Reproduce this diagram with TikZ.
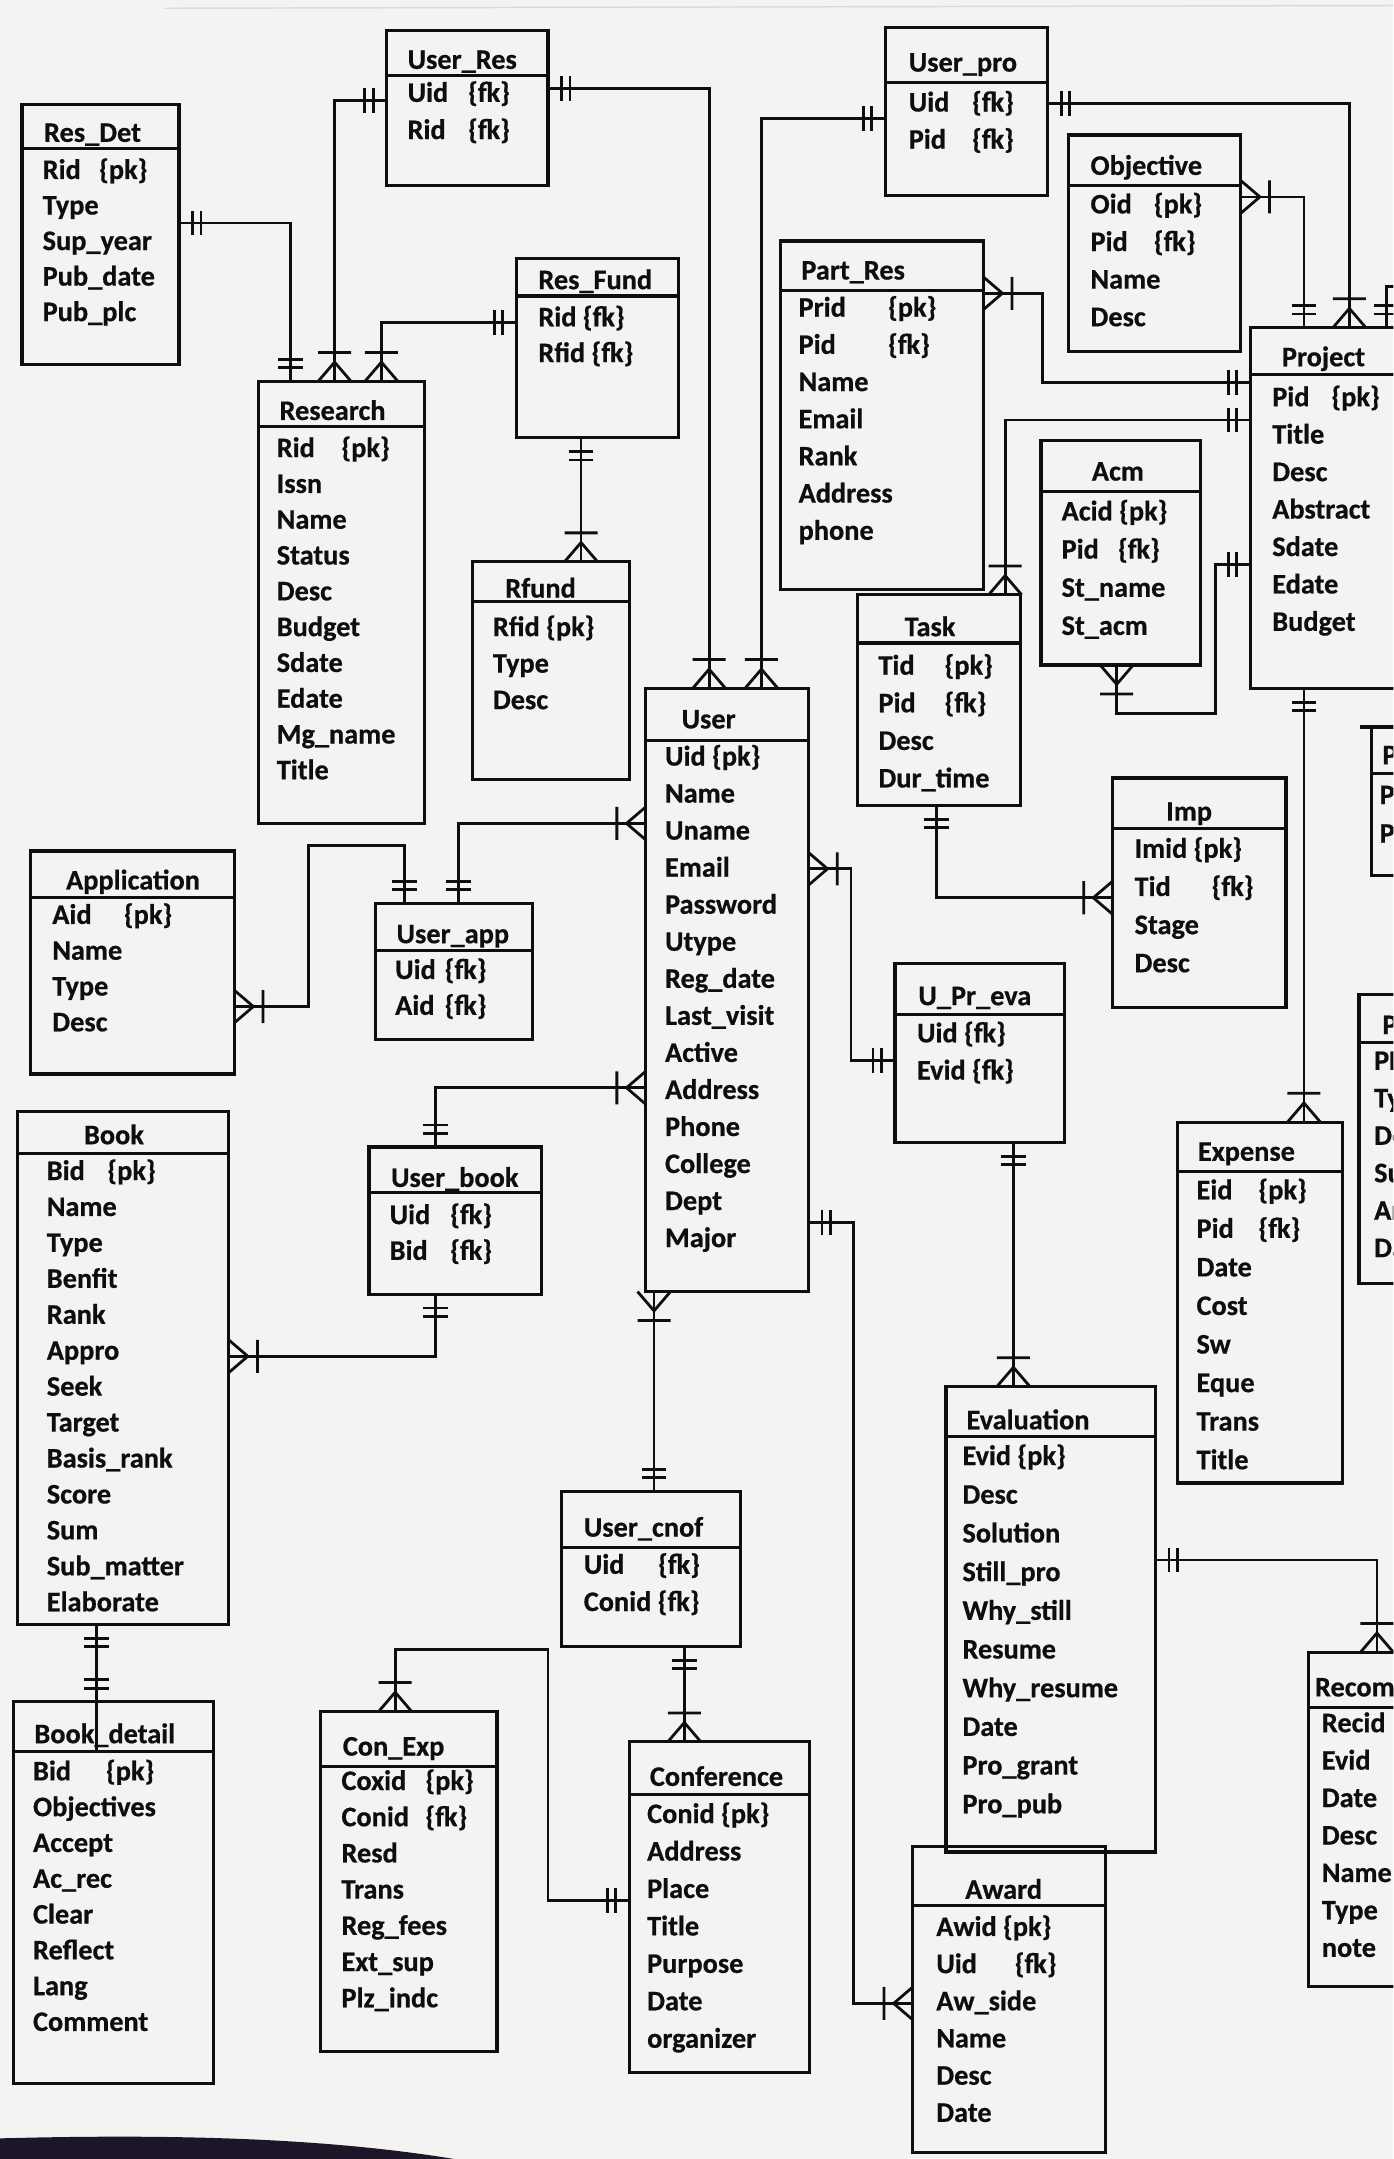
\documentclass[tikz,border=0pt]{standalone}
\usepackage{fontspec}
\setmainfont{Carlito}[BoldFeatures={FakeBold=0.6}]
\definecolor{paper}{RGB}{243,243,242}
\definecolor{ink}{RGB}{14,14,14}
\definecolor{edge}{RGB}{28,22,40}
\newlength\upx \setlength\upx{0.2mm}
% attribute with its key tag set at a fixed column
\newcommand\K[3]{\makebox[#1\upx][l]{#2}\{#3\}}
\tikzset{
  tblbox/.style={draw=ink, line width=1.3pt, inner sep=0pt, outer sep=0pt, rectangle},
  hdrline/.style={draw=ink, line width=1.3pt},
  link/.style={draw=ink, line width=1.15pt},
  txt/.style={inner sep=0pt, outer sep=0pt, text=ink, anchor=base west,
    font=\bfseries\fontsize{11.7}{14}\selectfont},
  % crow's foot with a bar: one or many
  pics/crowbar/.style={code={\draw[link] (14,0) -- (0,12) (14,0) -- (0,-12) (21,-12) -- (21,12);}},
  % two bars: one and only one
  pics/onebar/.style={code={\draw[link] (10,-9) -- (10,9) (16,-9) -- (16,9);}},
}
% table: name, x1, y1, x2, y2, y of the title rule
\newcommand\tbl[6]{%
  \node[tblbox, minimum width={(#4-#2)*0.2mm}, minimum height={(#5-#3)*0.2mm}, anchor=north west] (#1) at (#2,#3) {};
  \draw[hdrline] (#1.west |- 0,#6) -- (#1.east |- 0,#6);}
\newcommand\ttl[4]{\node[txt] (#1-t) at (#2,{#3+6}) {#4};}
% rows: name, x, y of first row, row pitch, list
\newcommand\rows[5]{\foreach \rw [count=\ri] in {#5} {\node[txt] (#1-\ri) at (#2,{#3+6+(\ri-1)*#4}) {\rw};}}
\begin{document}
\begin{tikzpicture}[x=0.2mm, y=-0.2mm]
\useasboundingbox (0,0) rectangle (1012,1568);
\clip (0,0) rectangle (1012,1568);
\fill[paper] (0,0) rectangle (1012,1568);
\draw[gray!30, line width=0.6pt] (120,6) -- (1012,4);
\fill[edge] (0,1568) -- (0,1553) .. controls (150,1549) and (250,1555) .. (330,1568) -- cycle;

% ---------------- tables ----------------
\tbl{resdet}{16}{76}{130}{265}{108}
\ttl{resdet}{32}{97}{Res\_Det}
\rows{resdet}{31}{124}{25.8}{\K{41}{Rid}{pk}, Type, Sup\_year, Pub\_date, Pub\_plc}

\tbl{userres}{281}{22}{398}{135}{55}
\ttl{userres}{296}{44}{User\_Res}
\rows{userres}{296}{68}{27}{\K{44}{Uid}{fk}, \K{44}{Rid}{fk}}

\tbl{resfund}{375}{188}{493}{318}{215}
\ttl{resfund}{391}{204}{Res\_Fund}
\rows{resfund}{391}{231}{26}{Rid \{fk\}, Rfid \{fk\}}

\tbl{research}{188}{277}{308}{598}{310}
\ttl{research}{203}{299}{Research}
\rows{research}{201}{326}{26}{\K{47}{Rid}{pk}, Issn, Name, Status, Desc, Budget, Sdate, Edate, Mg\_name, Title}

\tbl{rfund}{343}{408}{457}{566}{437}
\ttl{rfund}{367}{428}{Rfund}
\rows{rfund}{358}{456}{26.5}{Rfid \{pk\}, Type, Desc}

\tbl{userpro}{643}{20}{761}{142}{60}
\ttl{userpro}{660}{46}{User\_pro}
\rows{userpro}{660}{75}{27}{\K{46}{Uid}{fk}, \K{46}{Pid}{fk}}

\tbl{objective}{776}{98}{901}{255}{135}
\ttl{objective}{792}{121}{Objective}
\rows{objective}{792}{149}{27.3}{\K{46}{Oid}{pk}, \K{46}{Pid}{fk}, Name, Desc}

\tbl{partres}{567}{175}{714}{428}{211}
\ttl{partres}{582}{197}{Part\_Res}
\rows{partres}{580}{224}{27}{\K{65}{Prid}{pk}, \K{65}{Pid}{fk}, Name, Email, Rank, Address, phone}

\tbl{project}{908}{238}{1040}{500}{272}
\ttl{project}{931}{260}{Project}
\rows{project}{924}{289}{27.2}{\K{43}{Pid}{pk}, Title, Desc, Abstract, Sdate, Edate, Budget}

\tbl{acm}{756}{320}{872}{483}{357}
\ttl{acm}{793}{343}{Acm}
\rows{acm}{771}{372}{27.7}{Acid \{pk\}, \K{41}{Pid}{fk}, St\_name, St\_acm}

\tbl{task}{623}{432}{741}{585}{467}
\ttl{task}{657}{456}{Task}
\rows{task}{638}{484}{27.3}{\K{48}{Tid}{pk}, \K{48}{Pid}{fk}, Desc, Dur\_time}

\tbl{user}{469}{500}{587}{938}{538}
\ttl{user}{495}{523}{User}
\rows{user}{483}{550}{26.9}{Uid \{pk\}, Name, Uname, Email, Password, Utype, Reg\_date, Last\_visit, Active, Address, Phone, College, Dept, Major}

\tbl{imp}{808}{565}{934}{732}{602}
\ttl{imp}{847}{590}{Imp}
\rows{imp}{824}{617}{27.7}{Imid \{pk\}, \K{56}{Tid}{fk}, Stage, Desc}

\tbl{application}{22}{618}{170}{780}{652}
\ttl{application}{48}{640}{Application}
\rows{application}{38}{665}{26}{\K{52}{Aid}{pk}, Name, Type, Desc}

\tbl{userapp}{273}{656}{387}{755}{690}
\ttl{userapp}{288}{679}{User\_app}
\rows{userapp}{287}{705}{26}{\K{36}{Uid}{fk}, \K{36}{Aid}{fk}}

\tbl{upreva}{650}{700}{773}{830}{737}
\ttl{upreva}{667}{724}{U\_Pr\_eva}
\rows{upreva}{666}{751}{27}{Uid \{fk\}, \K{40}{Evid}{fk}}

\tbl{book}{13}{807}{166}{1180}{838}
\ttl{book}{61}{825}{Book}
\rows{book}{34}{851}{26.1}{\K{44}{Bid}{pk}, Name, Type, Benfit, Rank, Appro, Seek, Target, Basis\_rank, Score, Sum, Sub\_matter, Elaborate}

\tbl{userbook}{268}{833}{393}{940}{866}
\ttl{userbook}{284}{856}{User\_book}
\rows{userbook}{283}{883}{26}{\K{44}{Uid}{fk}, \K{44}{Bid}{fk}}

\tbl{expense}{855}{815}{975}{1077}{851}
\ttl{expense}{870}{837}{Expense}
\rows{expense}{869}{865}{28}{\K{45}{Eid}{pk}, \K{45}{Pid}{fk}, Date, Cost, Sw, Eque, Trans, Title}

\tbl{evaluation}{687}{1007}{839}{1345}{1043}
\ttl{evaluation}{702}{1032}{Evaluation}
\rows{evaluation}{699}{1058}{28.1}{Evid \{pk\}, Desc, Solution, Still\_pro, Why\_still, Resume, Why\_resume, Date, Pro\_grant, Pro\_pub}

\tbl{usercnof}{408}{1083}{538}{1196}{1124}
\ttl{usercnof}{424}{1110}{User\_cnof}
\rows{usercnof}{424}{1137}{27}{\K{54}{Uid}{fk}, Conid \{fk\}}

\tbl{bookdetail}{10}{1236}{155}{1513}{1272}
\ttl{bookdetail}{25}{1260}{Book\_detail}
\rows{bookdetail}{24}{1287}{26}{\K{53}{Bid}{pk}, Objectives, Accept, Ac\_rec, Clear, Reflect, Lang, Comment}

\tbl{conexp}{233}{1243}{361}{1490}{1283}
\ttl{conexp}{249}{1269}{Con\_Exp}
\rows{conexp}{248}{1294}{26.3}{\K{61}{Coxid}{pk}, \K{61}{Conid}{fk}, Resd, Trans, Reg\_fees, Ext\_sup, Plz\_indc}

\tbl{conference}{457}{1265}{588}{1505}{1303}
\ttl{conference}{472}{1291}{Conference}
\rows{conference}{470}{1318}{27.2}{Conid \{pk\}, Address, Place, Title, Purpose, Date, organizer}

\tbl{award}{663}{1341}{803}{1563}{1384}
\ttl{award}{701}{1373}{Award}
\rows{award}{680}{1400}{27}{Awid \{pk\}, \K{57}{Uid}{fk}, Aw\_side, Name, Desc, Date}

\tbl{recom}{950}{1200}{1040}{1443}{1240}
\ttl{recom}{955}{1226}{Recom}
\rows{recom}{960}{1252}{27.2}{Recid, Evid, Date, Desc, Name, Type, note}

\tbl{parta}{996}{528}{1040}{636}{562}
\draw[hdrline] (988,528) -- (parta.north west);
\ttl{parta}{1004}{549}{P}
\rows{parta}{1002}{578}{28}{P, P}

\tbl{partb}{987}{722}{1040}{932}{757}
\ttl{partb}{1004}{745}{P}
\rows{partb}{998}{771}{27.2}{PF, Ty, De, Su, Ar, Da}

% ---------------- relationships ----------------
\draw[link] (resdet.east |- 0,162) -| (research.north -| 211,0);
\pic[rotate=0] at (resdet.east |- 0,162) {onebar};
\pic[rotate=90] at (research.north -| 211,0) {onebar};

\draw[link] (userres.west |- 0,73) -| (research.north -| 243,0);
\pic[rotate=180] at (userres.west |- 0,73) {onebar};
\pic[rotate=90] at (research.north -| 243,0) {crowbar};

\draw[link] (resfund.west |- 0,234) -| (research.north -| 277,0);
\pic[rotate=180] at (resfund.west |- 0,234) {onebar};
\pic[rotate=90] at (research.north -| 277,0) {crowbar};

\draw[link] (resfund.south -| 422,0) -- (rfund.north -| 422,0);
\pic[rotate=-90] at (resfund.south -| 422,0) {onebar};
\pic[rotate=90] at (rfund.north -| 422,0) {crowbar};

\draw[link] (userres.east |- 0,64) -| (user.north -| 515,0);
\pic[rotate=0] at (userres.east |- 0,64) {onebar};
\pic[rotate=90] at (user.north -| 515,0) {crowbar};

\draw[link] (userpro.west |- 0,86) -| (user.north -| 553,0);
\pic[rotate=180] at (userpro.west |- 0,86) {onebar};
\pic[rotate=90] at (user.north -| 553,0) {crowbar};

\draw[link] (userpro.east |- 0,75) -| (project.north -| 980,0);
\pic[rotate=0] at (userpro.east |- 0,75) {onebar};
\pic[rotate=90] at (project.north -| 980,0) {crowbar};

\draw[link] (objective.east |- 0,143) -| (project.north -| 947,0);
\pic[rotate=0] at (objective.east |- 0,143) {crowbar};
\pic[rotate=90] at (project.north -| 947,0) {onebar};

\draw[link] (project.north -| 1007,0) -- (1007,208) -- (1030,208);
\pic[rotate=90] at (project.north -| 1007,0) {onebar};

\draw[link] (partres.east |- 0,213) -- (757,213) |- (project.west |- 0,278);
\pic[rotate=0] at (partres.east |- 0,213) {crowbar};
\pic[rotate=180] at (project.west |- 0,278) {onebar};

\draw[link] (project.west |- 0,305) -| (task.north -| 730,0);
\pic[rotate=180] at (project.west |- 0,305) {onebar};
\pic[rotate=90] at (task.north -| 730,0) {crowbar};

\draw[link] (acm.south -| 811,0) -- (811,518) -| (883,410) -- (project.west |- 0,410);
\pic[rotate=-90] at (acm.south -| 811,0) {crowbar};
\pic[rotate=180] at (project.west |- 0,410) {onebar};

\draw[link] (task.south -| 680,0) |- (imp.west |- 0,652);
\pic[rotate=-90] at (task.south -| 680,0) {onebar};
\pic[rotate=180] at (imp.west |- 0,652) {crowbar};

\draw[link] (user.east |- 0,631) -- (618,631) |- (upreva.west |- 0,770);
\pic[rotate=0] at (user.east |- 0,631) {crowbar};
\pic[rotate=180] at (upreva.west |- 0,770) {onebar};

\draw[link] (upreva.south -| 736,0) -- (evaluation.north -| 736,0);
\pic[rotate=-90] at (upreva.south -| 736,0) {onebar};
\pic[rotate=90] at (evaluation.north -| 736,0) {crowbar};

\draw[link] (project.south -| 947,0) -- (expense.north -| 947,0);
\pic[rotate=-90] at (project.south -| 947,0) {onebar};
\pic[rotate=90] at (expense.north -| 947,0) {crowbar};

\draw[link] (application.east |- 0,731) -- (224,731) |- (294,614) -- (userapp.north -| 294,0);
\pic[rotate=0] at (application.east |- 0,731) {crowbar};
\pic[rotate=90] at (userapp.north -| 294,0) {onebar};

\draw[link] (userapp.north -| 333,0) |- (user.west |- 0,598);
\pic[rotate=90] at (userapp.north -| 333,0) {onebar};
\pic[rotate=180] at (user.west |- 0,598) {crowbar};

\draw[link] (userbook.north -| 316,0) |- (user.west |- 0,790);
\pic[rotate=90] at (userbook.north -| 316,0) {onebar};
\pic[rotate=180] at (user.west |- 0,790) {crowbar};

\draw[link] (userbook.south -| 316,0) |- (book.east |- 0,985);
\pic[rotate=-90] at (userbook.south -| 316,0) {onebar};
\pic[rotate=0] at (book.east |- 0,985) {crowbar};

\draw[link] (user.south -| 475,0) -- (usercnof.north -| 475,0);
\pic[rotate=-90] at (user.south -| 475,0) {crowbar};
\pic[rotate=90] at (usercnof.north -| 475,0) {onebar};

\draw[link] (user.east |- 0,888) -- (620,888) |- (award.west |- 0,1455);
\pic[rotate=0] at (user.east |- 0,888) {onebar};
\pic[rotate=180] at (award.west |- 0,1455) {crowbar};

\draw[link] (usercnof.south -| 497,0) -- (conference.north -| 497,0);
\pic[rotate=-90] at (usercnof.south -| 497,0) {onebar};
\pic[rotate=90] at (conference.north -| 497,0) {crowbar};

\draw[link] (conexp.north -| 287,0) -- (287,1198) -| (398,1380) -- (conference.west |- 0,1380);
\pic[rotate=90] at (conexp.north -| 287,0) {crowbar};
\pic[rotate=180] at (conference.west |- 0,1380) {onebar};

\draw[link] (book.south -| 70,0) -- (bookdetail.north -| 70,0) -- ++(0,36);
\pic[rotate=-90] at (book.south -| 70,0) {onebar};
\pic[rotate=90] at (bookdetail.north -| 70,0) {onebar};

\draw[link] (evaluation.east |- 0,1133) -| (recom.north -| 1000,0);
\pic[rotate=0] at (evaluation.east |- 0,1133) {onebar};
\pic[rotate=90] at (recom.north -| 1000,0) {crowbar};
\end{tikzpicture}
\end{document}
